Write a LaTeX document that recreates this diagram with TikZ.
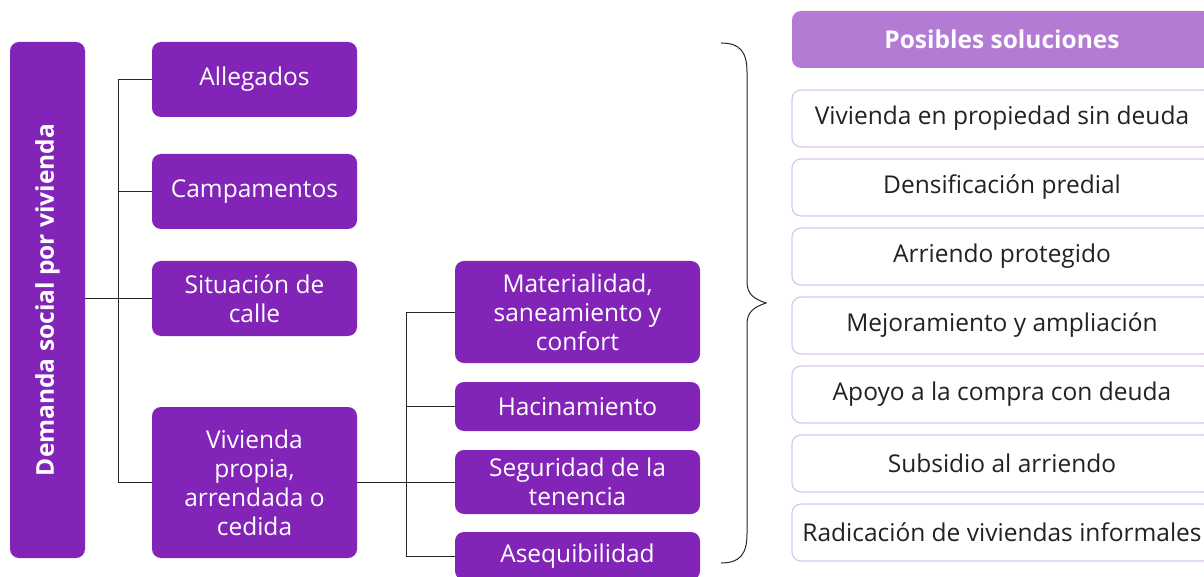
\documentclass[tikz,border=0pt]{standalone}
\usepackage{fontspec}
\setmainfont{Open Sans}
\usepackage{tikz}

\definecolor{morado}{RGB}{131,36,184}
\definecolor{lila}{RGB}{179,123,212}
\definecolor{lilaborde}{RGB}{222,196,238}
\definecolor{texto}{RGB}{34,34,34}

\begin{document}
\begin{tikzpicture}[x=1pt, y=-1pt,
    caja/.style={fill=morado, text=white, rounded corners=9pt, align=center,
        inner sep=0pt, minimum width=205pt, font=\fontsize{24.5}{29}\selectfont},
    subcaja/.style={caja, minimum width=245pt},
    cabecera/.style={fill=lila, text=white, rounded corners=9pt, inner sep=0pt,
        minimum width=420pt, minimum height=57pt, font=\fontsize{24.5}{29}\selectfont\bfseries},
    solucion/.style={draw=lilaborde, line width=1.2pt, fill=white, text=texto,
        rounded corners=9pt, inner sep=0pt, minimum width=420pt, minimum height=57pt,
        font=\fontsize{24.5}{29}\selectfont},
    linea/.style={draw=black!85, line width=1pt}]
        \clip (0,0) rectangle (1204,577);

        % demanda y primer nivel
        \node[caja, rotate=90, minimum width=516pt, minimum height=75pt,
            font=\fontsize{24.5}{29}\selectfont\bfseries] (demanda) at (47.5,300) {Demanda social por vivienda};
        \node[caja, minimum height=75pt] (allegados) at (254.5,79.5) {Allegados};
        \node[caja, minimum height=75pt] (campamentos) at (254.5,191.5) {Campamentos};
        \node[caja, minimum height=75pt] (calle) at (254.5,298.5) {Situación de\\calle};
        \node[caja, minimum height=151pt] (propia) at (254.5,482.5) {Vivienda\\propia,\\arrendada o\\cedida};

        % segundo nivel
        \node[subcaja, minimum height=102pt] (materialidad) at (577.5,312) {Materialidad,\\saneamiento y\\confort};
        \node[subcaja, minimum height=49pt] (hacinamiento) at (577.5,406.5) {Hacinamiento};
        \node[subcaja, minimum height=64pt] (seguridad) at (577.5,482) {Seguridad de la\\tenencia};
        \node[subcaja, minimum height=48pt] (asequibilidad) at (577.5,556) {Asequibilidad};

        \coordinate (rama) at (118,0);
        \coordinate (rama2) at (406,0);
        \draw[linea] (demanda.south |- calle.west) -- (calle.west);
        \draw[linea] (allegados.west) -- (allegados.west -| rama) |- (propia.west);
        \draw[linea] (campamentos.west) -- (campamentos.west -| rama);
        \draw[linea] (propia.east) -- (propia.east -| seguridad.west);
        \draw[linea] (materialidad.west) -- (materialidad.west -| rama2) |- (asequibilidad.west);
        \draw[linea] (hacinamiento.west) -- (hacinamiento.west -| rama2);

        % llave
        \draw[linea] (721,43) .. controls (740,43) and (747,52) .. (747,72)
            -- (747,282) .. controls (747,294) and (754,299) .. (766,303)
            .. controls (754,307) and (747,312) .. (747,324)
            -- (747,534) .. controls (747,554) and (740,563) .. (721,563);

        % soluciones
        \node[cabecera] (posibles) at (1002,39.5) {Posibles soluciones};
        \foreach \i/\t in {0/Vivienda en propiedad sin deuda, 1/Densificación predial,
            2/Arriendo protegido, 3/Mejoramiento y ampliación, 4/Apoyo a la compra con deuda,
            5/Subsidio al arriendo, 6/Radicación de viviendas informales} {
            \node[solucion] (sol\i) at (1002,{118.5+69*\i}) {\t};
        }
    \end{tikzpicture}
\end{document}
